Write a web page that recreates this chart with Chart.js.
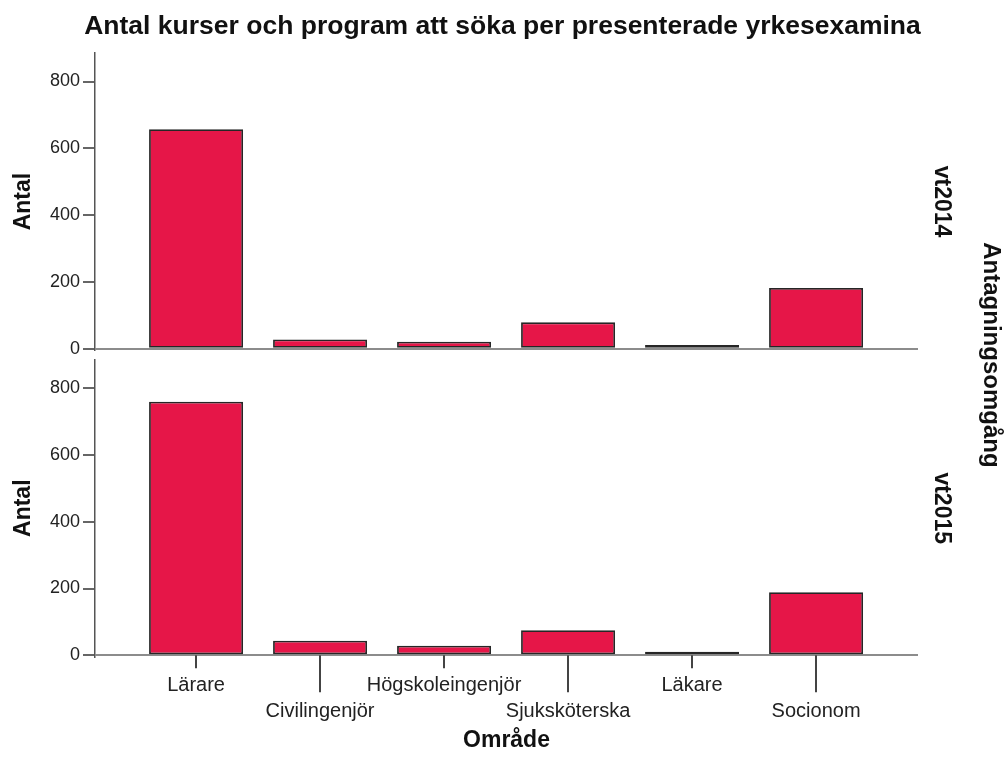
<!DOCTYPE html>
<html lang="sv">
<head>
<meta charset="UTF-8">
<title>Antal kurser och program att söka</title>
<script src="https://cdn.jsdelivr.net/npm/chart.js"></script>
<style>
  body { margin: 0; background: #fff; }
  .wrap { position: relative; width: 1005px; height: 760px; }
</style>
</head>
<body>
<div class="wrap"><canvas id="chart" width="1005" height="760"></canvas></div>
<script>
// data
const areas = ['Lärare', 'Civilingenjör', 'Högskoleingenjör', 'Sjuksköterska', 'Läkare', 'Socionom'];
const rounds = ['vt2014', 'vt2015'];
const counts2014 = [657, 28, 21, 79, 11, 182];
const counts2015 = [759, 44, 29, 75, 11, 189];
const yTicks = [0, 200, 400, 600, 800];

const family = '"Liberation Sans", Arial, sans-serif';
Chart.defaults.font.family = family;
Chart.defaults.color = '#222';

const barFill = 'rgb(230, 22, 72)';
const barLine = '#262626';

const barStyle = {
    backgroundColor: barFill,
    borderColor: barLine,
    borderWidth: 1.8,
    borderSkipped: false,
    grouped: false,
    categoryPercentage: 1,
    barPercentage: 0.758
};

// one y axis per panel, stacked on the left
const panelAxis = (weight) => ({
    type: 'linear',
    position: 'left',
    stack: 'panels',
    stackWeight: 298,
    weight: weight,
    min: -5,
    max: 886,
    afterBuildTicks: s => { s.ticks = yTicks.map(v => ({ value: v })); },
    afterFit: s => { s.width = 95; },
    grid: {
        drawOnChartArea: true,
        color: c => (c.tick && c.tick.value === 0 ? '#8c8c8c' : 'rgba(0,0,0,0)'),
        lineWidth: 2,
        tickLength: 12,
        tickColor: '#333',
        tickWidth: 1.5
    },
    border: { color: '#555', width: 1.5 },
    ticks: { padding: 3, font: { size: 18 }, color: '#222' },
    title: {
        display: true,
        text: 'Antal',
        font: { size: 23, weight: 'bold' },
        color: '#111',
        padding: { top: 10 }
    }
});

// panel labels on the right + staggered x tick marks
const sideLabels = {
    id: 'sideLabels',
    afterDraw(chart) {
        const ctx = chart.ctx;
        const top = chart.scales.yTop;
        const bot = chart.scales.yBot;
        const x = chart.scales.x;

        const vText = (text, px, py, size) => {
            ctx.save();
            ctx.translate(px, py);
            ctx.rotate(Math.PI / 2);
            ctx.font = 'bold ' + size + 'px ' + family;
            ctx.fillStyle = '#111';
            ctx.textAlign = 'center';
            ctx.textBaseline = 'middle';
            ctx.fillText(text, 0, 0);
            ctx.restore();
        };
        vText(rounds[0], 941, (top.top + top.bottom) / 2, 23);
        vText(rounds[1], 941, (bot.top + bot.bottom) / 2, 23);
        vText('Antagningsomgång', 991, (top.top + bot.bottom) / 2, 24);

        const base = bot.getPixelForValue(0);
        ctx.save();
        ctx.strokeStyle = '#444';
        ctx.lineWidth = 2;
        areas.forEach((a, i) => {
            const px = Math.round(x.getPixelForValue(i));
            const len = i % 2 ? 37 : 13;
            ctx.beginPath();
            ctx.moveTo(px, base);
            ctx.lineTo(px, base + len);
            ctx.stroke();
        });
        ctx.restore();
    }
};

new Chart(document.getElementById('chart'), {
    type: 'bar',
    data: {
        datasets: [
            Object.assign({
                label: rounds[0],
                data: counts2014.map((v, i) => ({ x: i, y: v })),
                yAxisID: 'yTop'
            }, barStyle),
            Object.assign({
                label: rounds[1],
                data: counts2015.map((v, i) => ({ x: i, y: v })),
                yAxisID: 'yBot'
            }, barStyle)
        ]
    },
    options: {
        responsive: false,
        animation: false,
        layout: { padding: 0 },
        plugins: {
            legend: { display: false },
            tooltip: { enabled: false },
            title: {
                display: true,
                text: 'Antal kurser och program att söka per presenterade yrkesexamina',
                font: { size: 26.5, weight: 'bold' },
                color: '#111',
                padding: { top: 11, bottom: 10 }
            }
        },
        scales: {
            x: {
                type: 'linear',
                position: 'bottom',
                offset: false,
                min: -0.815,
                max: 5.822,
                afterBuildTicks: s => { s.ticks = areas.map((a, i) => ({ value: i })); },
                afterFit: s => { s.height = 103; },
                grid: { display: false },
                border: { display: false },
                ticks: {
                    autoSkip: false,
                    maxRotation: 0,
                    padding: 7,
                    font: { size: 20, lineHeight: 1.3 },
                    color: '#222',
                    callback: v => (v % 2 ? ['', areas[v]] : areas[v])
                },
                title: {
                    display: true,
                    text: 'Område',
                    font: { size: 23, weight: 'bold' },
                    color: '#111',
                    padding: { bottom: 6 }
                }
            },
            yTop: panelAxis(3),
            yGap: {
                type: 'linear',
                position: 'left',
                stack: 'panels',
                stackWeight: 9,
                weight: 2,
                afterFit: s => { s.width = 95; },
                grid: { display: false },
                border: { display: false },
                ticks: { display: false }
            },
            yBot: panelAxis(1),
            // empty strip on the right that holds the panel labels
            yRight: {
                type: 'linear',
                position: 'right',
                afterFit: s => { s.width = 87; },
                grid: { display: false },
                border: { display: false },
                ticks: { display: false }
            }
        }
    },
    plugins: [sideLabels]
});
</script>
</body>
</html>
